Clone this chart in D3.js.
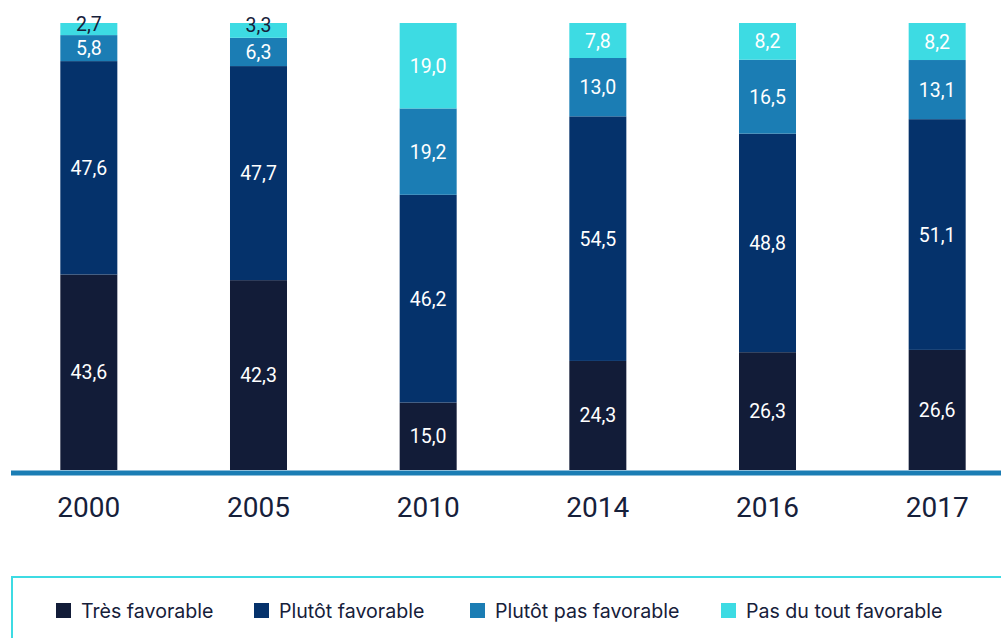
<!DOCTYPE html>
<html>
<head>
<meta charset="utf-8">
<script src="https://cdn.jsdelivr.net/npm/d3@7"></script>
<style>
  body { margin: 0; background: #fff; }
  svg { display: block; font-family: Roboto, "Noto Sans", sans-serif; }
</style>
</head>
<body>
<div id="chart"></div>
<script>
const years = ["2000", "2005", "2010", "2014", "2016", "2017"]
const series = ["Très favorable", "Plutôt favorable", "Plutôt pas favorable", "Pas du tout favorable"]
const tresFavorable = [43.6, 42.3, 15.0, 24.3, 26.3, 26.6]
const plutotFavorable = [47.6, 47.7, 46.2, 54.5, 48.8, 51.1]
const plutotPasFavorable = [5.8, 6.3, 19.2, 13.0, 16.5, 13.1]
const pasDuToutFavorable = [2.7, 3.3, 19.0, 7.8, 8.2, 8.2]

const colors = ["#121c38", "#05326b", "#1b7db4", "#3ddbe3"]
const textDark = "#16203a"

const width = 1001, height = 638

const svg = d3.select("#chart")
    .append("svg")
    .attr("width", width)
    .attr("height", height)

// build rows for the stack
const seriesValues = [tresFavorable, plutotFavorable, plutotPasFavorable, pasDuToutFavorable]
const rows = years.map((yr, i) => {
    const row = {year: yr}
    series.forEach((s, j) => row[s] = seriesValues[j][i])
    return row
})

const stack = d3.stack()
    .keys(series)
    .offset(d3.stackOffsetExpand)
const layers = stack(rows)

const x = d3.scaleBand()
    .domain(years)
    .range([4, 1022])
    .paddingInner(0.664)
    .paddingOuter(0.332)

const y = d3.scaleLinear()
    .domain([0, 1])
    .range([470, 23])

const fmt = v => d3.format(".1f")(v).replace(".", ",")

// bars
const groups = svg.selectAll("g.layer")
    .data(layers)
    .join("g")
    .attr("class", "layer")
    .attr("fill", (d, i) => colors[i])

groups.selectAll("rect")
    .data(d => d)
    .join("rect")
    .attr("x", d => x(d.data.year))
    .attr("y", d => y(d[1]))
    .attr("width", x.bandwidth())
    .attr("height", d => y(d[0]) - y(d[1]))

// value labels
layers.forEach((layer, i) => {
    svg.append("g")
        .selectAll("text")
        .data(layer)
        .join("text")
        .attr("x", d => x(d.data.year) + x.bandwidth() / 2)
        .attr("y", d => {
            const h = y(d[0]) - y(d[1])
            const mid = (y(d[0]) + y(d[1])) / 2
            return h < 20 ? mid - 5 : mid
        })
        .attr("dy", "0.36em")
        .attr("text-anchor", "middle")
        .attr("font-size", 19.5)
        .attr("fill", d => (y(d[0]) - y(d[1]) < 20) ? textDark : "#fff")
        .text(d => fmt(d.data[layer.key]))
})

// baseline
svg.append("line")
    .attr("x1", 11).attr("x2", width)
    .attr("y1", 473).attr("y2", 473)
    .attr("stroke", "#1b7db4")
    .attr("stroke-width", 5)

// x axis labels
const xAxis = svg.append("g")
    .attr("transform", "translate(0,473)")
    .call(d3.axisBottom(x).tickSize(0).tickPadding(0))
xAxis.select(".domain").remove()
xAxis.selectAll("text")
    .attr("y", 44)
    .attr("dy", 0)
    .attr("font-size", 28)
    .attr("font-family", "Roboto, sans-serif")
    .attr("fill", textDark)

// legend box
svg.append("rect")
    .attr("x", 12).attr("y", 577)
    .attr("width", width + 10).attr("height", 100)
    .attr("fill", "none")
    .attr("stroke", "#3ddbe3")
    .attr("stroke-width", 2)

const legendX = [56, 254, 470, 721]
const legend = svg.append("g")
    .selectAll("g")
    .data(series)
    .join("g")
    .attr("transform", (d, i) => `translate(${legendX[i]},603)`)
legend.append("rect")
    .attr("width", 15).attr("height", 15)
    .attr("fill", (d, i) => colors[i])
legend.append("text")
    .attr("x", 25)
    .attr("y", 14.5)
    .attr("font-size", 19.6)
    .attr("font-family", "Inter, sans-serif")
    .attr("fill", textDark)
    .text(d => d)
</script>
</body>
</html>
